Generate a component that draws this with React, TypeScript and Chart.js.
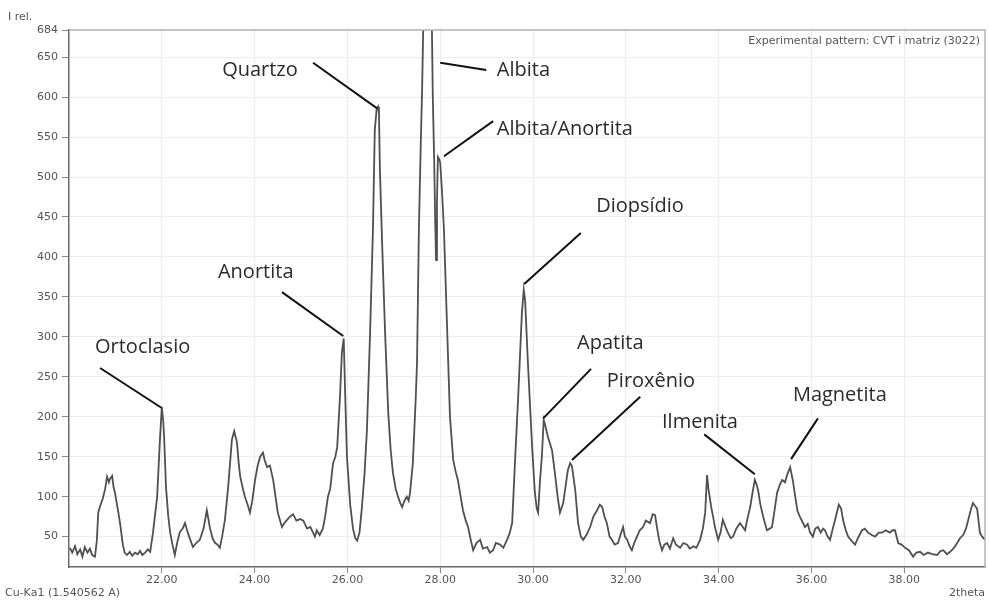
import { useEffect, useRef } from 'react';
import { Chart, registerables } from 'chart.js';

Chart.register(...registerables);

// Diffraction angle (2θ, degrees) and relative intensity of the pattern
const twoTheta = [
  20.02, 20.07, 20.13, 20.18, 20.24, 20.29, 20.34, 20.4, 20.45, 20.5, 20.56, 20.6, 20.63, 20.67, 20.73, 20.78, 20.82, 20.86, 20.88, 20.93,
  20.96, 20.99, 21.05, 21.1, 21.16, 21.2, 21.25, 21.31, 21.36, 21.42, 21.48, 21.53, 21.58, 21.64, 21.7, 21.75, 21.81, 21.86, 21.9, 21.96,
  22.0, 22.03, 22.05, 22.09, 22.14, 22.18, 22.23, 22.28, 22.33, 22.39, 22.45, 22.5, 22.56, 22.62, 22.67, 22.74, 22.82, 22.9, 22.97, 23.04,
  23.1, 23.15, 23.2, 23.25, 23.3, 23.36, 23.43, 23.51, 23.56, 23.62, 23.66, 23.69, 23.74, 23.79, 23.85, 23.9, 23.95, 24.01, 24.07, 24.12,
  24.18, 24.22, 24.27, 24.33, 24.4, 24.45, 24.5, 24.55, 24.59, 24.65, 24.7, 24.76, 24.83, 24.9, 24.98, 25.05, 25.13, 25.2, 25.26, 25.3,
  25.34, 25.4, 25.47, 25.52, 25.58, 25.63, 25.69, 25.74, 25.78, 25.84, 25.88, 25.92, 25.96, 25.99, 26.06, 26.12, 26.17, 26.21, 26.26, 26.31,
  26.37, 26.42, 26.49, 26.55, 26.59, 26.63, 26.66, 26.68, 26.7, 26.75, 26.81, 26.88, 26.93, 26.98, 27.04, 27.09, 27.14, 27.18, 27.23, 27.28,
  27.32, 27.35, 27.41, 27.47, 27.5, 27.54, 27.58, 27.61, 27.65, 27.7, 27.76, 27.82, 27.84, 27.87, 27.89, 27.91, 27.93, 27.95, 27.98, 28.0,
  28.04, 28.08, 28.15, 28.21, 28.28, 28.33, 28.38, 28.44, 28.49, 28.55, 28.6, 28.65, 28.71, 28.78, 28.86, 28.92, 29.01, 29.07, 29.14, 29.2,
  29.29, 29.36, 29.44, 29.5, 29.55, 29.61, 29.68, 29.76, 29.8, 29.83, 29.89, 29.98, 30.04, 30.08, 30.11, 30.15, 30.19, 30.23, 30.26, 30.32,
  30.41, 30.47, 30.53, 30.58, 30.65, 30.75, 30.8, 30.84, 30.91, 30.97, 31.03, 31.08, 31.15, 31.23, 31.3, 31.38, 31.44, 31.49, 31.54, 31.59,
  31.65, 31.7, 31.76, 31.83, 31.9, 31.94, 31.98, 32.03, 32.08, 32.13, 32.18, 32.24, 32.3, 32.37, 32.43, 32.52, 32.58, 32.63, 32.67, 32.72,
  32.78, 32.83, 32.89, 32.95, 33.02, 33.08, 33.17, 33.24, 33.32, 33.38, 33.45, 33.52, 33.6, 33.66, 33.71, 33.75, 33.78, 33.84, 33.88, 33.92,
  33.99, 34.04, 34.09, 34.15, 34.2, 34.26, 34.31, 34.38, 34.46, 34.52, 34.57, 34.63, 34.68, 34.73, 34.78, 34.82, 34.85, 34.9, 34.96, 35.04,
  35.1, 35.15, 35.21, 35.26, 35.32, 35.37, 35.43, 35.48, 35.54, 35.6, 35.65, 35.7, 35.75, 35.81, 35.86, 35.92, 35.97, 36.03, 36.08, 36.14,
  36.2, 36.25, 36.29, 36.35, 36.4, 36.46, 36.51, 36.59, 36.64, 36.68, 36.74, 36.79, 36.86, 36.94, 37.0, 37.09, 37.15, 37.22, 37.3, 37.37,
  37.45, 37.52, 37.6, 37.69, 37.75, 37.8, 37.87, 37.94, 38.02, 38.1, 38.19, 38.26, 38.34, 38.42, 38.51, 38.6, 38.71, 38.78, 38.84, 38.92,
  38.99, 39.07, 39.14, 39.2, 39.27, 39.33, 39.38, 39.44, 39.48, 39.53, 39.57, 39.63, 39.68, 39.74,
];

const intensity = [
  36, 30, 38, 28, 34, 25, 37, 30, 35, 27, 25, 45, 80, 88, 98, 110, 125, 118, 122, 126,
  112, 105, 85, 67, 40, 30, 27, 31, 26, 30, 28, 32, 27, 30, 34, 31, 55, 80, 100, 172,
  212, 195, 175, 112, 75, 55, 40, 27, 42, 56, 60, 67, 55, 45, 37, 42, 46, 60, 83, 60,
  47, 42, 40, 36, 50, 71, 112, 171, 182, 168, 140, 125, 112, 100, 90, 80, 95, 121, 140, 150,
  155, 145, 137, 139, 121, 100, 80, 70, 62, 68, 71, 75, 78, 70, 72, 70, 60, 62, 55, 50,
  58, 52, 60, 75, 100, 110, 142, 150, 162, 225, 280, 298, 210, 150, 90, 60, 48, 45, 55, 85,
  130, 183, 308, 434, 559, 585, 588, 580, 509, 413, 308, 205, 160, 130, 110, 100, 92, 87, 95, 100,
  95, 105, 142, 220, 267, 434, 540, 610, 740, 760, 750, 690, 600, 520, 450, 396, 470, 525, 522, 518,
  480, 434, 308, 200, 146, 132, 121, 100, 83, 70, 62, 48, 33, 42, 46, 35, 37, 30, 33, 42,
  40, 36, 46, 55, 67, 142, 225, 330, 359, 345, 267, 162, 105, 85, 80, 120, 150, 196, 190, 175,
  158, 130, 100, 80, 92, 133, 142, 138, 108, 67, 50, 46, 52, 62, 75, 83, 90, 87, 75, 67,
  50, 46, 40, 42, 55, 62, 50, 46, 38, 33, 42, 50, 58, 62, 70, 67, 78, 77, 62, 45,
  33, 40, 42, 35, 48, 40, 36, 42, 40, 35, 38, 36, 46, 60, 80, 127, 110, 87, 75, 62,
  46, 55, 71, 62, 55, 48, 50, 60, 67, 62, 58, 75, 87, 105, 121, 115, 108, 90, 75, 58,
  60, 62, 85, 105, 115, 121, 118, 128, 137, 120, 100, 82, 75, 68, 62, 66, 55, 50, 60, 62,
  55, 60, 58, 50, 46, 60, 71, 90, 85, 71, 58, 50, 45, 40, 48, 58, 60, 55, 52, 50,
  55, 55, 58, 55, 58, 58, 42, 40, 36, 33, 25, 30, 31, 27, 30, 28, 27, 32, 33, 28,
  31, 36, 42, 48, 52, 60, 71, 85, 92, 88, 85, 55, 50, 46,
];

const xTickValues = [22, 24, 26, 28, 30, 32, 34, 36, 38];
const yTickValues = [50, 100, 150, 200, 250, 300, 350, 400, 450, 500, 550, 600, 650, 684];

// Phase names, the peak each one points at, and where the name sits (all in 2θ / intensity units)
const phaseNames = ['Ortoclasio', 'Anortita', 'Quartzo', 'Albita', 'Albita/Anortita', 'Diopsídio', 'Apatita', 'Piroxênio', 'Ilmenita', 'Magnetita'];
const nameX = [20.56, 23.21, 23.3, 29.22, 29.22, 31.36, 30.95, 31.59, 32.78, 35.6];
const nameY = [287, 381, 633, 634, 560, 463, 292, 245, 193, 227];
const leaderFromX = [20.67, 24.59, 25.26, 28.99, 29.14, 31.03, 31.25, 32.31, 33.69, 36.14];
const leaderFromY = [261, 356, 643, 634, 570, 430, 260, 225, 178, 198];
const leaderToX = [22.0, 25.91, 26.64, 28.0, 28.08, 29.81, 30.22, 30.84, 34.78, 35.56];
const leaderToY = [211, 301, 586, 643, 526, 366, 198, 146, 128, 147];

const AXIS_FAMILY = '"DejaVu Sans", Verdana, sans-serif';
const AXIS_FONT = `11px ${AXIS_FAMILY}`;

const overlayPlugin = {
  id: 'xrdOverlay',
  afterDraw(chart: any) {
    const { ctx, chartArea, scales } = chart;
    const xs = scales.x;
    const ys = scales.y;
    ctx.save();

    // frame top and right
    ctx.strokeStyle = '#b5b5b5';
    ctx.lineWidth = 1.5;
    ctx.beginPath();
    ctx.moveTo(chartArea.left, chartArea.top);
    ctx.lineTo(chartArea.right, chartArea.top);
    ctx.lineTo(chartArea.right, chartArea.bottom);
    ctx.stroke();

    // axis captions
    ctx.fillStyle = '#555';
    ctx.font = AXIS_FONT;
    ctx.textBaseline = 'middle';
    ctx.textAlign = 'left';
    ctx.fillText('I rel.', 8, 17);
    ctx.fillText('Cu-Ka1 (1.540562 A)', 5, 593);
    ctx.textAlign = 'right';
    ctx.fillText('2theta', chartArea.right, 593);
    ctx.fillText('Experimental pattern: CVT i matriz (3022)', chartArea.right - 5, 41);

    // phase leaders and names
    ctx.strokeStyle = '#111';
    ctx.lineWidth = 2;
    for (let i = 0; i < phaseNames.length; i++) {
      ctx.beginPath();
      ctx.moveTo(xs.getPixelForValue(leaderFromX[i]), ys.getPixelForValue(leaderFromY[i]));
      ctx.lineTo(xs.getPixelForValue(leaderToX[i]), ys.getPixelForValue(leaderToY[i]));
      ctx.stroke();
    }
    ctx.fillStyle = '#2b2b2b';
    ctx.font = '20px "Open Sans", "Noto Sans", sans-serif';
    ctx.textAlign = 'left';
    ctx.textBaseline = 'middle';
    for (let i = 0; i < phaseNames.length; i++) {
      ctx.fillText(phaseNames[i], xs.getPixelForValue(nameX[i]), ys.getPixelForValue(nameY[i]));
    }
    ctx.restore();
  },
};

export default function App() {
  const canvasRef = useRef<HTMLCanvasElement | null>(null);

  useEffect(() => {
    if (!canvasRef.current) return;
    const points = twoTheta.map((t, i) => ({ x: t, y: intensity[i] }));
    const chart = new Chart(canvasRef.current, {
      type: 'line',
      data: {
        datasets: [
          {
            data: points,
            borderColor: '#505050',
            borderWidth: 1.8,
            pointRadius: 0,
            tension: 0,
            fill: false,
          },
        ],
      },
      options: {
        animation: false,
        responsive: false,
        maintainAspectRatio: false,
        layout: { padding: { top: 30, right: 4, left: 0, bottom: 0 } },
        plugins: {
          legend: { display: false },
          tooltip: { enabled: false },
        },
        scales: {
          x: {
            type: 'linear',
            min: 20.0,
            max: 39.74,
            afterBuildTicks: (scale: any) => {
              scale.ticks = xTickValues.map((v) => ({ value: v }));
            },
            afterFit: (scale: any) => {
              scale.height = 35;
            },
            ticks: {
              autoSkip: false,
              maxRotation: 0,
              padding: 1,
              color: '#555',
              font: { family: AXIS_FAMILY, size: 11 },
              callback: (v: any) => Number(v).toFixed(2),
            },
            grid: {
              color: '#ededed',
              lineWidth: 1,
              tickLength: 6,
              tickColor: '#888',
            },
            border: { display: true, color: '#6a6a6a', width: 1.5 },
          },
          y: {
            type: 'linear',
            min: 12,
            max: 684,
            afterBuildTicks: (scale: any) => {
              scale.ticks = yTickValues.map((v) => ({ value: v }));
            },
            afterFit: (scale: any) => {
              scale.width = 69;
            },
            ticks: {
              autoSkip: false,
              padding: 4,
              color: '#555',
              font: { family: AXIS_FAMILY, size: 11 },
              callback: (v: any) => String(v),
            },
            grid: {
              color: '#ededed',
              lineWidth: 1,
              tickLength: 7,
              tickColor: '#888',
            },
            border: { display: true, color: '#6a6a6a', width: 1.5 },
          },
        },
      },
      plugins: [overlayPlugin],
    });
    return () => chart.destroy();
  }, []);

  return (
    <div style={{ position: 'fixed', left: 0, top: 0, width: 989, height: 602, background: '#fff' }}>
      <canvas ref={canvasRef} width={989} height={602} style={{ display: 'block' }} />
    </div>
  );
}
